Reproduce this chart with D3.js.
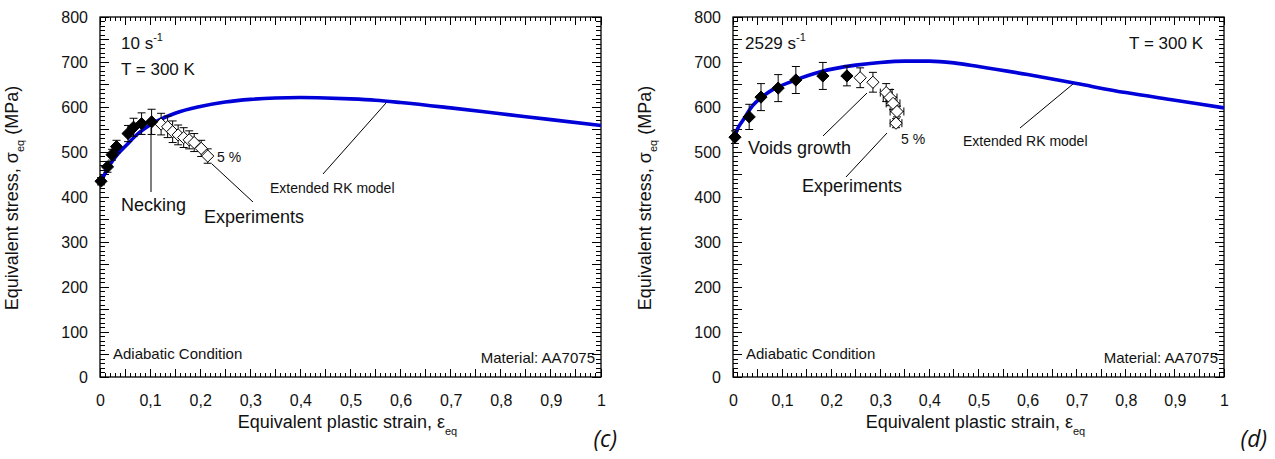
<!DOCTYPE html>
<html><head><meta charset="utf-8">
<script src="https://cdn.jsdelivr.net/npm/d3@7"></script>
<style>body{margin:0;background:#fff}svg{display:block;font-family:"Liberation Sans",Arial,sans-serif}</style>
</head><body><svg id="c" width="1275" height="459"></svg>
<script>
// ---------- data ----------
const xTickLabels = [0,0.1,0.2,0.3,0.4,0.5,0.6,0.7,0.8,0.9,1];
const yTickLabels = [0,100,200,300,400,500,600,700,800];

// Panel (c): 10 s^-1
const cModelStrain = [0,0.01,0.02,0.035,0.05,0.075,0.1,0.15,0.2,0.25,0.3,0.35,0.4,0.45,0.5,0.55,0.6,0.7,0.8,0.9,1.0];
const cModelStress = [432,452,472,495,512,540,560,586,601,611,617,620,621,620,618,615,610,598,585,572,559];
const cFilledStrain = [0.002,0.015,0.024,0.033,0.056,0.067,0.083,0.103];
const cFilledStress = [435,467,494,512,541,555,563,567];
const cFilledErr    = [8,12,12,14,18,20,24,28];
const cOpenStrain = [0.122,0.135,0.145,0.156,0.167,0.178,0.188,0.202,0.215];
const cOpenStress = [562,556,545,538,532,527,521,508,491];
const cOpenErr    = [24,24,24,22,22,20,20,18,16];

// Panel (d): 2529 s^-1
const dModelStrain = [0,0.01,0.02,0.04,0.06,0.08,0.12,0.18,0.25,0.3,0.35,0.4,0.45,0.5,0.6,0.7,0.8,0.9,1.0];
const dModelStress = [525,553,570,603,623,638,657,679,693,699,702,702,698,690,672,652,632,615,598];
const dFilledStrain = [0.004,0.033,0.057,0.092,0.128,0.183,0.232];
const dFilledStress = [533,578,622,642,660,669,669];
const dFilledErr    = [14,28,30,30,30,30,22];
const dOpenStrain = [0.259,0.285,0.312,0.32,0.326,0.334,0.332];
const dOpenStress = [665,655,632,621,608,590,564];
const dOpenErrY   = [22,22,20,18,14,12,10];
const dOpenErrX   = [0,0,0.012,0.014,0.014,0.014,0.012];

// ---------- drawing ----------
const svg = d3.select("#c");
const blue = "#0000d8";
const fmtX = v => v===0?"0":v===1?"1":String(+v.toFixed(1)).replace(".",",");

function panel(o){
  const x = d3.scaleLinear().domain([0,1]).range([o.x0,o.x1]);
  const y = d3.scaleLinear().domain([0,800]).range([377,17]);
  const g = svg.append("g");
  // frame
  g.append("rect").attr("x",o.x0).attr("y",17).attr("width",o.x1-o.x0).attr("height",360)
    .attr("fill","none").attr("stroke","#000").attr("stroke-width",1.3);
  const minorX = d3.range(0,1.0001,0.01), majX = d3.range(0,1.0001,0.05);
  const minorY = d3.range(0,801,10), majY = d3.range(0,801,50);
  const tg = g.append("g").attr("shape-rendering","crispEdges").attr("stroke","#000").attr("stroke-width",1);
  const tk = (vals, len, orient) => {
    vals.forEach(v=>{
      let l;
      if(orient==="b") l=[x(v),377,x(v),377-len];
      if(orient==="t") l=[x(v),17,x(v),17+len];
      if(orient==="l") l=[o.x0,y(v),o.x0+len,y(v)];
      if(orient==="r") l=[o.x1,y(v),o.x1-len,y(v)];
      tg.append("line").attr("x1",l[0]).attr("y1",l[1]).attr("x2",l[2]).attr("y2",l[3]);
    });
  };
  tk(minorX,4,"b");tk(majX,8,"b");tk(minorX,4,"t");tk(majX,8,"t");
  tk(minorY,5,"l");tk(majY,9,"l");tk(minorY,5,"r");tk(majY,9,"r");
  // labels through axes
  const ax = g.append("g").attr("transform","translate(0,377)")
    .call(d3.axisBottom(x).tickValues(xTickLabels).tickFormat(fmtX).tickSize(0).tickPadding(18));
  const ay = g.append("g").attr("transform",`translate(${o.x0},0)`)
    .call(d3.axisLeft(y).tickValues(yTickLabels).tickSize(0).tickPadding(12));
  [ax,ay].forEach(a=>{a.select(".domain").remove();a.selectAll("text").attr("font-size",16).attr("fill","#111").attr("font-family","Liberation Sans, Arial, sans-serif");});

  // model curve
  g.append("path").datum(o.ms.map((s,i)=>[s,o.mv[i]]))
    .attr("d",d3.line().x(d=>x(d[0])).y(d=>y(d[1])).curve(d3.curveMonotoneX))
    .attr("fill","none").attr("stroke",blue).attr("stroke-width",3.6);

  // error bars
  const eb = g.append("g").attr("stroke","#000").attr("stroke-width",1);
  const ebar = (s,v,e,ex)=>{
    if(e>0){
      eb.append("line").attr("x1",x(s)).attr("x2",x(s)).attr("y1",y(v-e)).attr("y2",y(v+e));
      [v-e,v+e].forEach(c=>eb.append("line").attr("x1",x(s)-4).attr("x2",x(s)+4).attr("y1",y(c)).attr("y2",y(c)));
    }
    if(ex>0){
      eb.append("line").attr("x1",x(s-ex)).attr("x2",x(s+ex)).attr("y1",y(v)).attr("y2",y(v));
      [s-ex,s+ex].forEach(c=>eb.append("line").attr("x1",x(c)).attr("x2",x(c)).attr("y1",y(v)-4).attr("y2",y(v)+4));
    }
  };
  o.fs.forEach((s,i)=>ebar(s,o.fv[i],o.fe[i],0));
  o.os.forEach((s,i)=>ebar(s,o.ov[i],o.oe[i],o.oex?o.oex[i]:0));
  const sym = d3.symbol().type(d3.symbolDiamond2).size(95);
  g.selectAll(".od").data(o.os.map((s,i)=>[s,o.ov[i]])).join("path")
    .attr("transform",d=>`translate(${x(d[0])},${y(d[1])})`).attr("d",sym)
    .attr("fill","#fff").attr("stroke","#000").attr("stroke-width",1);
  g.selectAll(".fd").data(o.fs.map((s,i)=>[s,o.fv[i]])).join("path")
    .attr("transform",d=>`translate(${x(d[0])},${y(d[1])})`).attr("d",sym)
    .attr("fill","#000").attr("stroke","#000").attr("stroke-width",1);

  // axis titles
  const cx=(o.x0+o.x1)/2;
  const xt = g.append("text").attr("x",cx-3).attr("y",428).attr("text-anchor","middle").attr("font-size",18).attr("fill","#111");
  xt.append("tspan").text("Equivalent plastic strain, ε");
  xt.append("tspan").attr("font-size",11).attr("dy",7).text("eq");
  const yt = g.append("text").attr("transform",`translate(${o.x0-82},198) rotate(-90)`).attr("text-anchor","middle").attr("font-size",18).attr("fill","#111");
  yt.append("tspan").text("Equivalent stress, σ");
  yt.append("tspan").attr("font-size",11).attr("dy",6).text("eq");
  yt.append("tspan").attr("dy",-6).text(" (MPa)");

  // annotations
  const rate = g.append("text").attr("x",o.rx).attr("y",49).attr("font-size",17).attr("fill","#111");
  rate.append("tspan").text(o.rate+" s");
  rate.append("tspan").attr("font-size",11).attr("dy",-8).text("-1");
  g.append("text").attr("x",o.tx).attr("y",o.ty).attr("text-anchor",o.ta).attr("font-size",17).attr("fill","#111").text("T = 300 K");
  g.append("text").attr("x",o.x0+13).attr("y",359).attr("font-size",15).attr("fill","#111").text("Adiabatic Condition");
  g.append("text").attr("x",o.x1-6).attr("y",363).attr("text-anchor","end").attr("font-size",15).attr("fill","#111").text("Material: AA7075");
  g.append("text").attr("x",o.panX).attr("y",447).attr("text-anchor","end").attr("font-size",23).attr("font-style","italic")
    .attr("font-family","Open Sans, sans-serif").attr("fill","#111").text(o.panel);
  o.notes.forEach(n=>{
    g.append("text").attr("x",n.x).attr("y",n.y).attr("font-size",n.fs).attr("fill","#111").text(n.t);
    if(n.l) g.append("line").attr("x1",n.l[0]).attr("y1",n.l[1]).attr("x2",n.l[2]).attr("y2",n.l[3]).attr("stroke","#000").attr("stroke-width",1);
  });
}

panel({x0:100,x1:601,ms:cModelStrain,mv:cModelStress,fs:cFilledStrain,fv:cFilledStress,fe:cFilledErr,
  os:cOpenStrain,ov:cOpenStress,oe:cOpenErr,rate:"10",rx:121,tx:121,ty:75,ta:"start",panel:"(c)",panX:617,
  notes:[
    {t:"Necking",x:121,y:211,fs:18,l:[151,128,151,192]},
    {t:"Experiments",x:204,y:223,fs:18,l:[212,164,253,202]},
    {t:"5 %",x:217,y:162,fs:14},
    {t:"Extended RK model",x:270,y:193,fs:14,l:[323,174,386,103]}
  ]});
panel({x0:733,x1:1224,ms:dModelStrain,mv:dModelStress,fs:dFilledStrain,fv:dFilledStress,fe:dFilledErr,
  os:dOpenStrain,ov:dOpenStress,oe:dOpenErrY,oex:dOpenErrX,rate:"2529",rx:745,tx:1203,ty:49,ta:"end",panel:"(d)",panX:1267,
  notes:[
    {t:"Voids growth",x:748,y:154,fs:18,l:[823,136,867,93]},
    {t:"Experiments",x:802,y:192,fs:18,l:[846,177,887,133]},
    {t:"5 %",x:901,y:144,fs:14},
    {t:"Extended RK model",x:963,y:146,fs:14,l:[1020,128,1073,84]}
  ]});
</script></body></html>
